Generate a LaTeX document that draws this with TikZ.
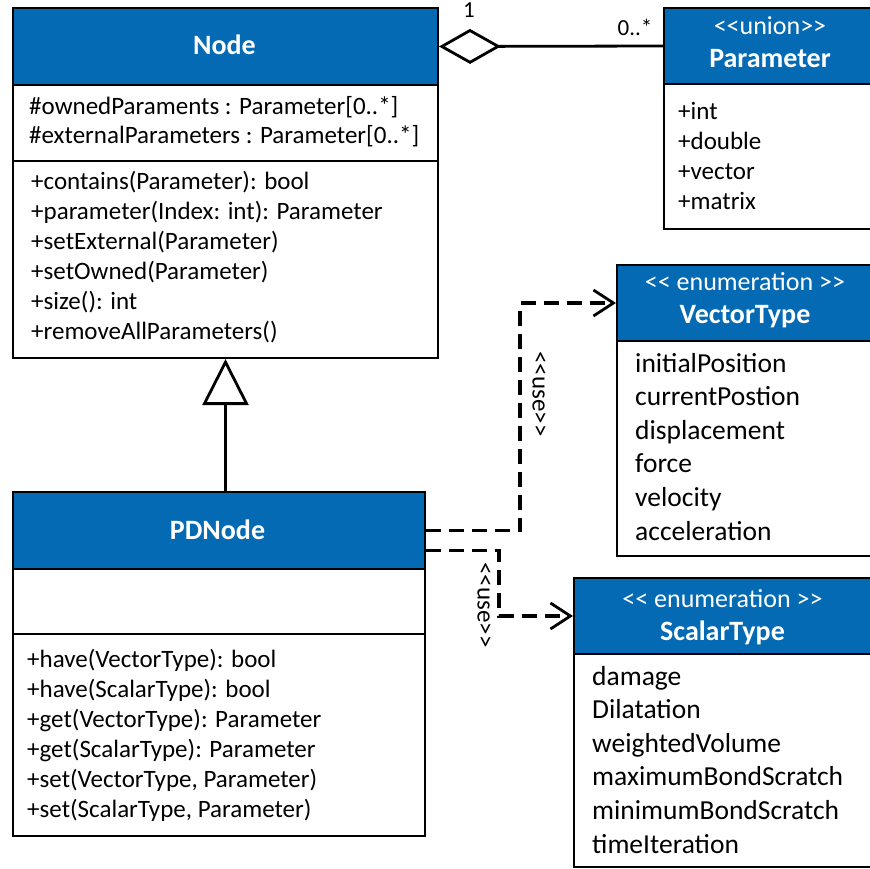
\documentclass[tikz,border=0pt]{standalone}
\usepackage{fontspec}
\setmainfont{Carlito}
\usetikzlibrary{arrows.meta}
\definecolor{ublue}{RGB}{5,106,180}
\begin{document}
\begin{tikzpicture}[x=1pt,y=-1pt,
 secbox/.style={draw=black, line width=2pt, fill=white, anchor=north west, inner sep=0pt},
 hdrbox/.style={draw=black, fill=ublue, line width=2pt, anchor=north west, inner sep=0pt},
 ttl/.style={text=white, inner sep=0pt, anchor=base, font=\fontsize{28}{30}\selectfont\bfseries},
 stereo/.style={text=white, inner sep=0pt, anchor=base, font=\fontsize{26}{30}\selectfont},
 mem/.style={inner sep=0pt, anchor=base west, font=\fontsize{25}{30}\selectfont},
 lit/.style={inner sep=0pt, anchor=base west, font=\fontsize{27.5}{34}\selectfont},
 mult/.style={inner sep=0pt, anchor=base, font=\fontsize{23}{30}\selectfont},
 uselbl/.style={inner sep=0pt, rotate=-90, font=\fontsize{25}{30}\selectfont},
 conn/.style={line width=2.8pt},
 usedash/.style={line width=3.2pt, dash pattern=on 15pt off 8pt, -{Straight Barb[length=20pt,width=26pt,line width=2.8pt]}}
]
\useasboundingbox (0,0) rectangle (870,869);
\clip (0,0) rectangle (870,869);

% ---------- Node ----------
\node[hdrbox, minimum width=425pt, minimum height=77pt] (nodeH) at (12,7) {};
\node[secbox, minimum width=425pt, minimum height=76pt] (nodeA) at (12,84) {};
\node[secbox, minimum width=425pt, minimum height=197pt] (nodeM) at (12,160) {};
\node[ttl] (nodeT) at (224.5,55) {Node};
\node[mem] (na1) at (29,115) {\#ownedParaments : Parameter[0..*]};
\node[mem] (na2) at (29,144) {\#externalParameters : Parameter[0..*]};
\foreach \t [count=\i from 0] in {+contains(Parameter): bool,
  +parameter(Index: int): Parameter,
  +setExternal(Parameter),
  +setOwned(Parameter),
  +size(): int,
  +removeAllParameters()}
  \node[mem] (nm\i) at (31,190+29.8*\i) {\t};

% ---------- Parameter ----------
\node[hdrbox, minimum width=217pt, minimum height=76pt] (parH) at (663,7) {};
\node[secbox, minimum width=217pt, minimum height=145pt] (parB) at (663,83) {};
\node[stereo] (parS) at (770,35) {<{}<union>{}>};
\node[ttl] (parT) at (770,68) {Parameter};
\foreach \t [count=\i from 0] in {+int,+double,+vector,+matrix}
  \node[mem] (pb\i) at (678,120+29.7*\i) {\t};

% ---------- VectorType ----------
\node[hdrbox, minimum width=264pt, minimum height=76pt] (vecH) at (616,264) {};
\node[secbox, minimum width=264pt, minimum height=215pt] (vecB) at (616,340) {};
\node[stereo] (vecS) at (745,290) {<{}< enumeration >{}>};
\node[ttl] (vecT) at (745,323) {VectorType};
\foreach \t [count=\i from 0] in {initialPosition,currentPostion,displacement,force,velocity,acceleration}
  \node[lit] (vb\i) at (635,372+33.6*\i) {\t};

% ---------- PDNode ----------
\node[hdrbox, minimum width=412pt, minimum height=77pt] (pdH) at (12,491) {};
\node[secbox, minimum width=412pt, minimum height=65pt] (pdA) at (12,568) {};
\node[secbox, minimum width=412pt, minimum height=202pt] (pdM) at (12,633) {};
\node[ttl] (pdT) at (217.5,539) {PDNode};
\foreach \t [count=\i from 0] in {+have(VectorType): bool,
  +have(ScalarType): bool,
  +get(VectorType): Parameter,
  +get(ScalarType): Parameter,
  {+set(VectorType, Parameter)},
  {+set(ScalarType, Parameter)}}
  \node[mem] (pm\i) at (27,667+30*\i) {\t};

% ---------- ScalarType ----------
\node[hdrbox, minimum width=307pt, minimum height=76pt] (scaH) at (573,577) {};
\node[secbox, minimum width=307pt, minimum height=213pt] (scaB) at (573,653) {};
\node[stereo] (scaS) at (722.5,607) {<{}< enumeration >{}>};
\node[ttl] (scaT) at (722.5,640) {ScalarType};
\foreach \t [count=\i from 0] in {damage,Dilatation,weightedVolume,maximumBondScratch,minimumBondScratch,timeIteration}
  \node[lit] (sb\i) at (592,685+33.6*\i) {\t};

% ---------- connectors ----------
\draw[conn, {Diamond[open,length=62pt,width=35pt]}-] (nodeH.east) -- (parH.west);
\node[mult] (m1) at (469,18) {1};
\node[mult] (m2) at (635,36) {0..*};

\draw[conn, -{Triangle[open,length=46pt,width=46pt]}] (pdH.north -| nodeM.south) -- (nodeM.south);

\coordinate (jv) at (520,420);
\draw[usedash] (pdH.east) -| (jv) |- (vecH.west);
\node[uselbl] (use1) at (539,394) {<{}<use>{}>};

\coordinate (js) at (499,590);
\draw[usedash] ([yshift=-20pt]pdH.east) -| (js) |- (scaH.west);
\node[uselbl] (use2) at (484,605) {<{}<use>{}>};
\end{tikzpicture}
\end{document}
